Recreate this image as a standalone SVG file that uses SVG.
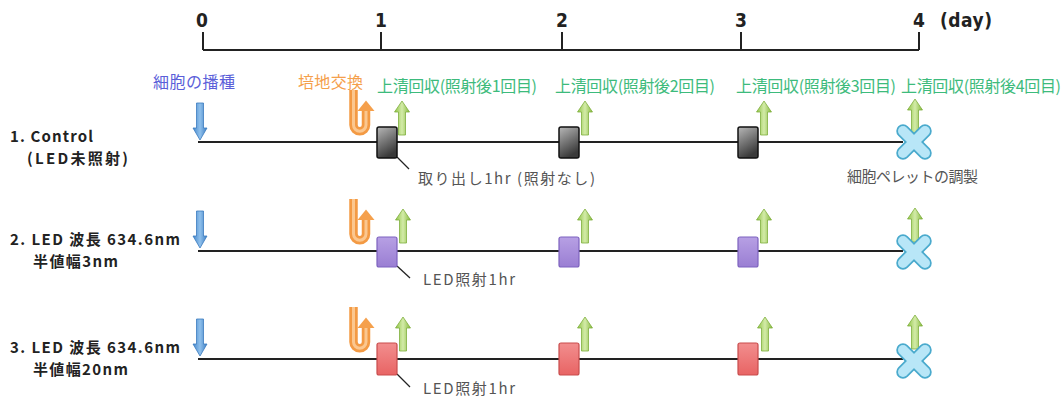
<svg xmlns="http://www.w3.org/2000/svg" width="1062" height="397" viewBox="0 0 1062 397">
<style>
.jp{font-family:"Noto Sans CJK JP","Noto Sans",sans-serif;}
.num{font-family:"Liberation Sans Narrow","DejaVu Sans Condensed","Liberation Sans",sans-serif;font-weight:bold;font-size:19px;fill:#222;}
.lbl{font-family:"Noto Sans CJK JP","Noto Sans",sans-serif;font-weight:bold;font-size:15px;fill:#222;}
.green{fill:#3dbb7c;font-size:16px;}
.blue{fill:#5b5fd9;font-size:16px;}
.orange{fill:#f5a04c;font-size:16px;}
.gray{fill:#555;font-size:15px;}
.axis{stroke:#222;stroke-width:2;fill:none;}
.tl{stroke:#222;stroke-width:2;fill:none;}
.callout{stroke:#222;stroke-width:1.3;fill:none;}
.bk{fill:url(#gBlack);stroke:#111;stroke-width:1.5;}
.pu{fill:url(#gPurple);stroke:#7d62bf;stroke-width:1.2;}
.rd{fill:url(#gRed);stroke:#c94c4c;stroke-width:1.2;}
</style>
<defs>
<linearGradient id="gGreen" x1="0" y1="0" x2="1" y2="0">
<stop offset="0" stop-color="#90c445"/><stop offset="0.5" stop-color="#d3eba8"/><stop offset="1" stop-color="#86b93c"/>
</linearGradient>
<linearGradient id="gBlue" x1="0" y1="0" x2="1" y2="0">
<stop offset="0" stop-color="#4688cc"/><stop offset="0.5" stop-color="#8fc0ec"/><stop offset="1" stop-color="#4080c4"/>
</linearGradient>
<linearGradient id="gBlack" x1="0" y1="0" x2="0.4" y2="1">
<stop offset="0" stop-color="#b8b8b8"/><stop offset="1" stop-color="#3a3a3a"/>
</linearGradient>
<linearGradient id="gPurple" x1="0" y1="0" x2="0" y2="1">
<stop offset="0" stop-color="#b7a0e4"/><stop offset="1" stop-color="#9a7ed3"/>
</linearGradient>
<linearGradient id="gRed" x1="0" y1="0" x2="0" y2="1">
<stop offset="0" stop-color="#f28e8e"/><stop offset="1" stop-color="#e86464"/>
</linearGradient>
<path id="upG" d="M0,0 L7.5,11 L3.5,11 L3.5,34 L-3.5,34 L-3.5,11 L-7.5,11 Z" fill="url(#gGreen)" stroke="#7fae3e" stroke-width="0.8"/>
<path id="downB" d="M-3.5,-37 H3.5 V-12 H7 L0,0 L-7,-12 H-3.5 Z" fill="url(#gBlue)" stroke="#3b7bbf" stroke-width="0.8"/>
<g id="uturn">
<path d="M353.5,-52 V-17 A6.25,6.25 0 0 0 366,-17 V-31" fill="none" stroke="#f39a44" stroke-width="8.5"/>
<path d="M353.5,-52 V-17 A6.25,6.25 0 0 0 366,-17 V-31" fill="none" stroke="#fbc78f" stroke-width="3"/>
<polygon points="357.5,-31 374.5,-31 366,-41.5" fill="#f5a04c"/>
</g>
<g id="xmark">
<line x1="-11" y1="-11" x2="11" y2="11" stroke="#4aaacd" stroke-width="13.5" stroke-linecap="round"/>
<line x1="11" y1="-11" x2="-11" y2="11" stroke="#4aaacd" stroke-width="13.5" stroke-linecap="round"/>
<line x1="-11" y1="-11" x2="11" y2="11" stroke="#b8e6f7" stroke-width="10" stroke-linecap="round"/>
<line x1="11" y1="-11" x2="-11" y2="11" stroke="#b8e6f7" stroke-width="10" stroke-linecap="round"/>
</g>
</defs>
<rect width="1062" height="397" fill="#fff"/>

<g id="axis">
<path class="axis" d="M203,50 H919 M203,32 V50 M381,32 V50 M562,32 V50 M741,32 V50 M919,32 V50"/>
<text class="num" x="202" y="27" text-anchor="middle">0</text>
<text class="num" x="381" y="27" text-anchor="middle">1</text>
<text class="num" x="562" y="27" text-anchor="middle">2</text>
<text class="num" x="741" y="27" text-anchor="middle">3</text>
<text class="num" x="919" y="27" text-anchor="middle">4</text>
<text class="num" x="940" y="27" textLength="52">(day)</text>
</g>

<g id="event-labels" class="jp">
<text id="lbl-seed" class="jp blue" x="153" y="88" textLength="82">細胞の播種</text>
<text id="lbl-medium" class="jp orange" x="298" y="88" textLength="65">培地交換</text>
<text id="lbl-sup1" class="jp green" x="377" y="92" textLength="160">上清回収(照射後1回目)</text>
<text id="lbl-sup2" class="jp green" x="555" y="92" textLength="160">上清回収(照射後2回目)</text>
<text id="lbl-sup3" class="jp green" x="736" y="92" textLength="160">上清回収(照射後3回目)</text>
<text id="lbl-sup4" class="jp green" x="901" y="92" textLength="160">上清回収(照射後4回目)</text>
</g>

<g id="row-labels">
<text class="lbl" x="10" y="142" textLength="83">1. Control</text>
<text class="lbl" x="27" y="164" textLength="101">(LED未照射)</text>
<text class="lbl" x="10" y="245" textLength="170">2. LED 波長 634.6nm</text>
<text class="lbl" x="33" y="267" textLength="85">半値幅3nm</text>
<text class="lbl" x="10" y="353" textLength="170">3. LED 波長 634.6nm</text>
<text class="lbl" x="33" y="375" textLength="95">半値幅20nm</text>
</g>

<g id="connectors">
<line class="tl" x1="198" y1="142" x2="903" y2="142"/>
<line class="tl" x1="198" y1="251" x2="903" y2="251"/>
<line class="tl" x1="198" y1="359" x2="903" y2="359"/>
<line class="callout" x1="397" y1="157" x2="409" y2="169"/>
<line class="callout" x1="397" y1="266" x2="410" y2="278"/>
<line class="callout" x1="397" y1="374" x2="410" y2="387"/>
</g>

<g id="row1" transform="translate(0,142)">
<g id="r1-seed"><use href="#downB" x="200" y="-2"/></g>
<g id="r1-medium"><use href="#uturn"/></g>
<g id="r1-up1"><use href="#upG" x="402" y="-41"/></g>
<g id="r1-up2"><use href="#upG" x="585" y="-41"/></g>
<g id="r1-up3"><use href="#upG" x="764" y="-41"/></g>
<g id="r1-up4"><use href="#upG" x="915" y="-43"/></g>
<g id="r1-box1"><rect class="bk" x="377" y="-15" width="20" height="31" rx="2"/></g>
<g id="r1-box2"><rect class="bk" x="559" y="-15" width="20" height="31" rx="2"/></g>
<g id="r1-box3"><rect class="bk" x="738" y="-15" width="20" height="31" rx="2"/></g>
<g id="r1-x"><use href="#xmark" x="914" y="0"/></g>
</g>
<text id="r1-note" class="jp gray" x="418" y="184" textLength="177">取り出し1hr (照射なし)</text>
<text id="r1-pellet" class="jp gray" x="847" y="182" font-size="14.5" textLength="131">細胞ペレットの調製</text>

<g id="row2" transform="translate(0,251)">
<g id="r2-seed"><use href="#downB" x="200" y="-3"/></g>
<g id="r2-medium"><use href="#uturn"/></g>
<g id="r2-up1"><use href="#upG" x="403" y="-42"/></g>
<g id="r2-up2"><use href="#upG" x="585" y="-42"/></g>
<g id="r2-up3"><use href="#upG" x="764" y="-42"/></g>
<g id="r2-up4"><use href="#upG" x="915" y="-43"/></g>
<g id="r2-box1"><rect class="pu" x="377" y="-14" width="20" height="30" rx="2"/></g>
<g id="r2-box2"><rect class="pu" x="559" y="-14" width="20" height="30" rx="2"/></g>
<g id="r2-box3"><rect class="pu" x="738" y="-14" width="20" height="30" rx="2"/></g>
<g id="r2-x"><use href="#xmark" x="914" y="1"/></g>
</g>
<text id="r2-note" class="jp gray" x="423" y="285" textLength="92">LED照射1hr</text>

<g id="row3" transform="translate(0,359)">
<g id="r3-seed"><use href="#downB" x="200" y="-3"/></g>
<g id="r3-medium"><use href="#uturn"/></g>
<g id="r3-up1"><use href="#upG" x="403" y="-42"/></g>
<g id="r3-up2"><use href="#upG" x="585" y="-42"/></g>
<g id="r3-up3"><use href="#upG" x="765" y="-42"/></g>
<g id="r3-up4"><use href="#upG" x="915" y="-44"/></g>
<g id="r3-box1"><rect class="rd" x="377" y="-16" width="20" height="32" rx="2"/></g>
<g id="r3-box2"><rect class="rd" x="559" y="-16" width="20" height="32" rx="2"/></g>
<g id="r3-box3"><rect class="rd" x="738" y="-16" width="20" height="32" rx="2"/></g>
<g id="r3-x"><use href="#xmark" x="914" y="2"/></g>
</g>
<text id="r3-note" class="jp gray" x="423" y="394" textLength="92">LED照射1hr</text>
</svg>
